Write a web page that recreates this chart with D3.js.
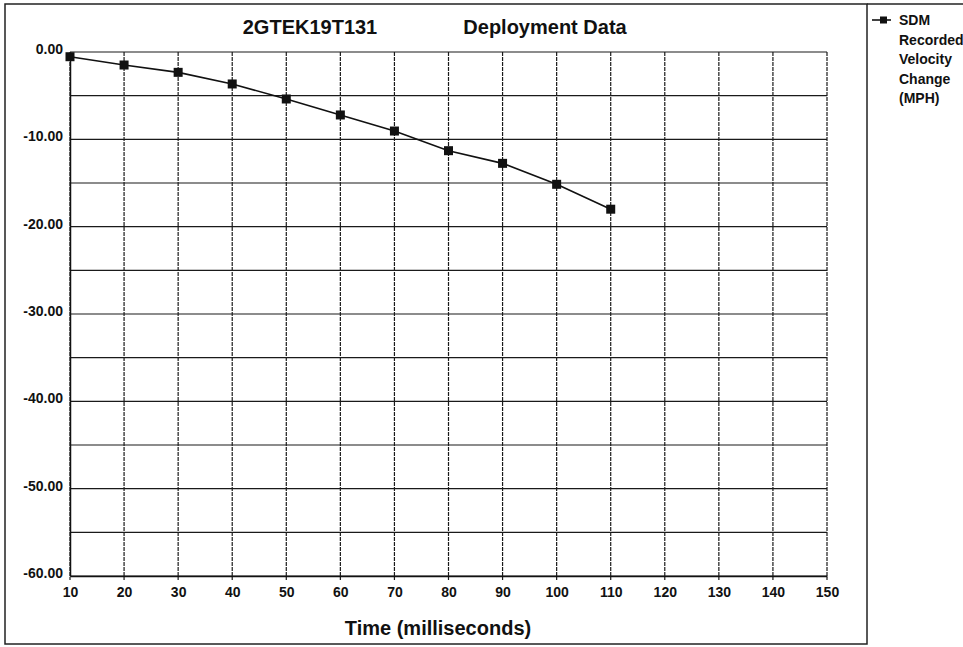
<!DOCTYPE html>
<html>
<head>
<meta charset="utf-8">
<script src="https://cdn.jsdelivr.net/npm/d3@7"></script>
<style>
  body { margin: 0; background: #fff; }
  text { font-family: "Liberation Sans", Arial, sans-serif; }
</style>
</head>
<body>
<div id="chart"></div>
<script>
// data
var times = [10, 20, 30, 40, 50, 60, 70, 80, 90, 100, 110];
var velocity = [-0.54, -1.49, -2.33, -3.66, -5.38, -7.21, -9.05, -11.3, -12.75, -15.15, -18.0];
var xTicks = [10, 20, 30, 40, 50, 60, 70, 80, 90, 100, 110, 120, 130, 140, 150];
var yTicks = [0, -10, -20, -30, -40, -50, -60];
var yGrid = [-5, -15, -25, -35, -45, -55];
var legendLines = ["SDM", "Recorded", "Velocity", "Change", "(MPH)"];

var svgWidth = 963;
var svgHeight = 647;
var plotLeft = 70;
var plotTop = 52;
var plotRight = 827;
var plotBottom = 576;

var svg = d3.select("#chart")
    .append("svg")
    .attr("width", svgWidth)
    .attr("height", svgHeight);

// outer frame + legend divider
svg.append("rect")
    .attr("x", 5).attr("y", 4)
    .attr("width", 862).attr("height", 640)
    .attr("fill", "none")
    .attr("stroke", "#222")
    .attr("stroke-width", 1.5);
svg.append("line")
    .attr("x1", 867).attr("x2", 963)
    .attr("y1", 4).attr("y2", 4)
    .attr("stroke", "#222").attr("stroke-width", 1.5);

var xScale = d3.scaleLinear().domain([10, 150]).range([plotLeft, plotRight]);
var yScale = d3.scaleLinear().domain([0, -60]).range([plotTop, plotBottom]);

// grid
var grid = svg.append("g");
grid.selectAll("line.v")
    .data(xTicks)
    .enter().append("line")
    .attr("class", "v")
    .attr("x1", d => xScale(d)).attr("x2", d => xScale(d))
    .attr("y1", plotTop).attr("y2", plotBottom + 4)
    .attr("stroke", "#1a1a1a")
    .attr("stroke-width", 1.2)
    .attr("stroke-dasharray", "4,1");
grid.selectAll("line.h")
    .data(yTicks.concat(yGrid))
    .enter().append("line")
    .attr("class", "h")
    .attr("x1", plotLeft).attr("x2", plotRight)
    .attr("y1", d => yScale(d)).attr("y2", d => yScale(d))
    .attr("stroke", "#1a1a1a")
    .attr("stroke-width", 1.2);

// axes
var xAxis = d3.axisBottom(xScale).tickValues(xTicks).tickSize(0).tickPadding(11);
var yAxis = d3.axisLeft(yScale).tickValues(yTicks).tickSize(0).tickPadding(7)
    .tickFormat(d => d.toFixed(2));

var xg = svg.append("g").attr("transform", `translate(0,${plotBottom})`).call(xAxis);
var yg = svg.append("g").attr("transform", `translate(${plotLeft},0)`).call(yAxis);
[xg, yg].forEach(g => {
    g.select(".domain").attr("stroke", "#111").attr("stroke-width", 1.5);
    g.selectAll("text")
        .attr("font-size", "14px")
        .attr("font-weight", "bold")
        .attr("fill", "#111")
        .style("font-family", "'Liberation Sans', Arial, sans-serif");
});
yg.selectAll("text").attr("dy", "0.1em");

// titles
svg.append("text")
    .attr("x", 310).attr("y", 34)
    .attr("text-anchor", "middle")
    .attr("font-size", "20px").attr("font-weight", "bold")
    .attr("fill", "#111")
    .text("2GTEK19T131");
svg.append("text")
    .attr("x", 545).attr("y", 34)
    .attr("text-anchor", "middle")
    .attr("font-size", "20px").attr("font-weight", "bold")
    .attr("fill", "#111")
    .text("Deployment Data");
svg.append("text")
    .attr("x", 438).attr("y", 635)
    .attr("text-anchor", "middle")
    .attr("font-size", "20px").attr("font-weight", "bold")
    .attr("fill", "#111")
    .text("Time (milliseconds)");

// series
var line = d3.line()
    .x((d, i) => xScale(times[i]))
    .y(d => yScale(d));
svg.append("path")
    .datum(velocity)
    .attr("d", line)
    .attr("fill", "none")
    .attr("stroke", "#111")
    .attr("stroke-width", 1.6);
svg.selectAll("rect.pt")
    .data(velocity)
    .enter().append("rect")
    .attr("class", "pt")
    .attr("x", (d, i) => xScale(times[i]) - 4.5)
    .attr("y", d => yScale(d) - 4.5)
    .attr("width", 9).attr("height", 9)
    .attr("fill", "#111");

// legend
var lg = svg.append("g");
lg.append("line")
    .attr("x1", 872).attr("x2", 891)
    .attr("y1", 20).attr("y2", 20)
    .attr("stroke", "#111").attr("stroke-width", 1.6);
lg.append("rect")
    .attr("x", 880).attr("y", 16.5)
    .attr("width", 7).attr("height", 7)
    .attr("fill", "#111");
lg.selectAll("text")
    .data(legendLines)
    .enter().append("text")
    .attr("x", 899)
    .attr("y", (d, i) => 25 + i * 19.5)
    .attr("font-size", "14px").attr("font-weight", "bold")
    .attr("fill", "#111")
    .text(d => d);
</script>
</body>
</html>
